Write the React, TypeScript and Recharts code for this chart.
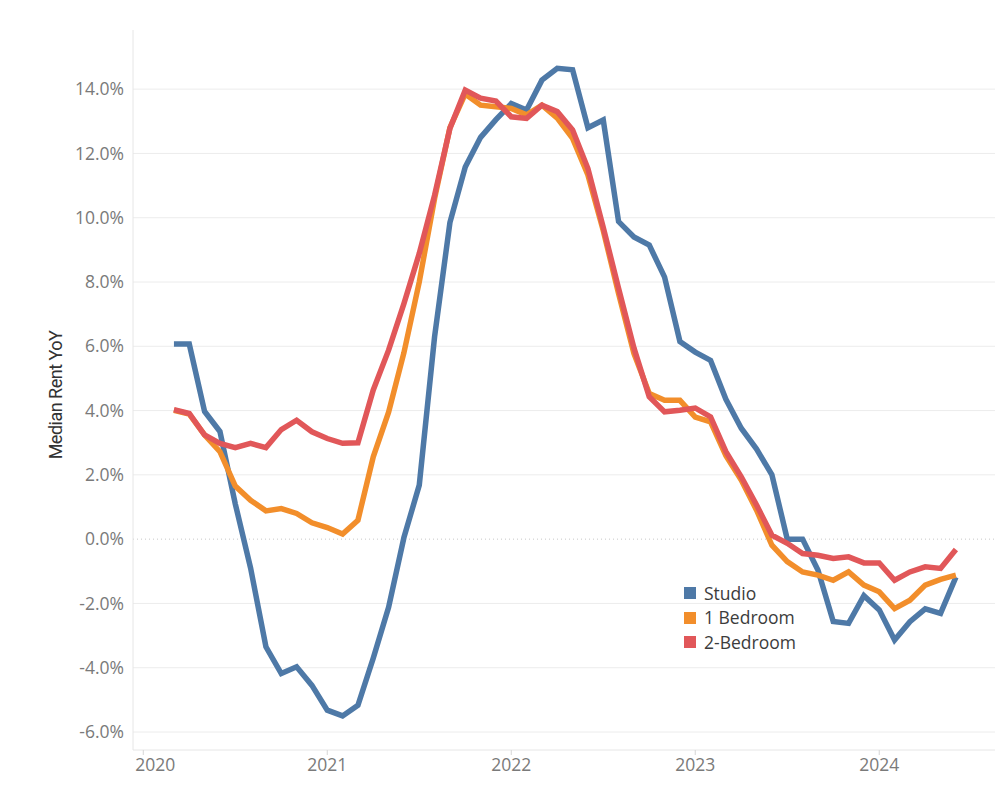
import React from 'react'
import { LineChart, Line, XAxis, YAxis, ReferenceLine } from 'recharts'

// months run Mar 2020 .. Jun 2024
const months = [
  '2020-03', '2020-04', '2020-05', '2020-06', '2020-07', '2020-08', '2020-09', '2020-10', '2020-11', '2020-12',
  '2021-01', '2021-02', '2021-03', '2021-04', '2021-05', '2021-06', '2021-07', '2021-08', '2021-09', '2021-10', '2021-11', '2021-12',
  '2022-01', '2022-02', '2022-03', '2022-04', '2022-05', '2022-06', '2022-07', '2022-08', '2022-09', '2022-10', '2022-11', '2022-12',
  '2023-01', '2023-02', '2023-03', '2023-04', '2023-05', '2023-06', '2023-07', '2023-08', '2023-09', '2023-10', '2023-11', '2023-12',
  '2024-01', '2024-02', '2024-03', '2024-04', '2024-05', '2024-06',
]

const studio = [
  6.07, 6.07, 3.97, 3.35, 1.1, -0.9, -3.35, -4.18, -3.97, -4.55,
  -5.32, -5.5, -5.17, -3.7, -2.12, 0.05, 1.68, 6.3, 9.85, 11.58, 12.5, 13.05,
  13.55, 13.35, 14.28, 14.65, 14.6, 12.8, 13.04, 9.88, 9.4, 9.15, 8.15, 6.15,
  5.82, 5.56, 4.35, 3.45, 2.8, 2.0, 0.0, 0.0, -0.96, -2.56, -2.62, -1.76,
  -2.2, -3.14, -2.57, -2.17, -2.31, -1.18,
]

const oneBed = [
  4.01, 3.89, 3.24, 2.72, 1.65, 1.21, 0.88, 0.95, 0.8, 0.51,
  0.36, 0.16, 0.59, 2.56, 3.95, 5.8, 8.0, 10.6, 12.8, 13.85, 13.5, 13.45,
  13.4, 13.2, 13.5, 13.1, 12.47, 11.33, 9.6, 7.64, 5.78, 4.53, 4.32, 4.32,
  3.8, 3.65, 2.6, 1.84, 0.9, -0.19, -0.7, -1.02, -1.12, -1.28, -1.02, -1.43,
  -1.64, -2.16, -1.9, -1.43, -1.25, -1.12,
]

const twoBed = [
  4.03, 3.91, 3.24, 2.98, 2.85, 2.98, 2.85, 3.41, 3.7, 3.34,
  3.13, 2.98, 3.0, 4.64, 5.88, 7.33, 8.89, 10.7, 12.78, 13.97, 13.72, 13.63,
  13.14, 13.09, 13.5, 13.3, 12.73, 11.53, 9.7, 7.8, 5.95, 4.43, 3.96, 4.01,
  4.08, 3.8, 2.72, 1.94, 1.06, 0.12, -0.13, -0.45, -0.5, -0.6, -0.55, -0.74,
  -0.74, -1.28, -1.02, -0.86, -0.91, -0.32,
]

const yearTicks = [0, 12, 24, 36, 48]
const yearLabels = ['2020', '2021', '2022', '2023', '2024']
const yTicks = [-6, -4, -2, 0, 2, 4, 6, 8, 10, 12, 14]

const series = [
  { key: 'studio', name: 'Studio', color: '#4e79a7' },
  { key: 'oneBed', name: '1 Bedroom', color: '#f28e2b' },
  { key: 'twoBed', name: '2-Bedroom', color: '#e15759' },
]

const data = months.map((m, i) => {
  const [y, mo] = m.split('-').map(Number)
  return {
    t: (y - 2020) * 12 + (mo - 1),
    studio: studio[i],
    oneBed: oneBed[i],
    twoBed: twoBed[i],
  }
})

const FONT = '"Open Sans", sans-serif'
const tickFont = { fontSize: 17.5, fill: '#7a7a7a', fontFamily: FONT }

// first year label is pushed right so it stays inside the plot, like the original
function YearTick(props: any) {
  const { x, y, payload, index } = props
  return (
    <text
      x={x + (index === 0 ? 12 : 0)}
      y={y}
      dy={12}
      textAnchor="middle"
      style={tickFont}
    >
      {yearLabels[yearTicks.indexOf(payload.value)]}
    </text>
  )
}

function LegendBox() {
  return (
    <div
      style={{
        position: 'absolute',
        left: 684,
        top: 581,
        fontFamily: FONT,
        fontSize: 17.5,
        color: '#3c3c3c',
        lineHeight: 1,
      }}
    >
      {series.map((s) => (
        <div key={s.key} style={{ display: 'flex', alignItems: 'center', height: 24.5 }}>
          <span
            style={{ width: 12, height: 12, background: s.color, display: 'inline-block', marginRight: 8 }}
          />
          <span>{s.name}</span>
        </div>
      ))}
    </div>
  )
}

export default function App() {
  return (
    <div style={{ position: 'absolute', left: 0, top: 0, width: 1000, height: 800, background: '#fff' }}>
      <LineChart width={1000} height={800} data={data} margin={{ top: 30, right: 5, bottom: 0, left: 0 }}>
        {yTicks.filter((v) => v !== 0).map((v) => (
          <ReferenceLine key={v} y={v} stroke="#ececec" strokeWidth={1} />
        ))}
        <ReferenceLine y={0} stroke="#c8c8c8" strokeDasharray="1 3" />
        <XAxis
          type="number"
          dataKey="t"
          domain={[-0.67, 55.55]}
          ticks={yearTicks}
          allowDataOverflow
          height={50}
          axisLine={{ stroke: '#e6e6e6' }}
          tickLine={{ stroke: '#d6d6d6' }}
          tickSize={5}
          tickMargin={4}
          tick={<YearTick />}
        />
        <YAxis
          type="number"
          domain={[-6.56, 15.84]}
          ticks={yTicks}
          allowDataOverflow
          width={133}
          axisLine={{ stroke: '#e6e6e6' }}
          tickLine={false}
          tickSize={0}
          tickMargin={9}
          tick={tickFont}
          tickFormatter={(v: number) => `${v.toFixed(1)}%`}
          label={{
            content: () => (
              <text
                x={55}
                y={395}
                transform="rotate(-90 55 395)"
                textAnchor="middle"
                dominantBaseline="central"
                style={{ fontSize: 18, fill: '#333', fontFamily: '"Roboto", sans-serif', letterSpacing: -0.5 }}
              >
                Median Rent YoY
              </text>
            ),
          }}
        />
        {series.map((s) => (
          <Line
            key={s.key}
            type="linear"
            dataKey={s.key}
            name={s.name}
            stroke={s.color}
            strokeWidth={5.5}
            dot={false}
            isAnimationActive={false}
          />
        ))}
      </LineChart>
      <LegendBox />
    </div>
  )
}
